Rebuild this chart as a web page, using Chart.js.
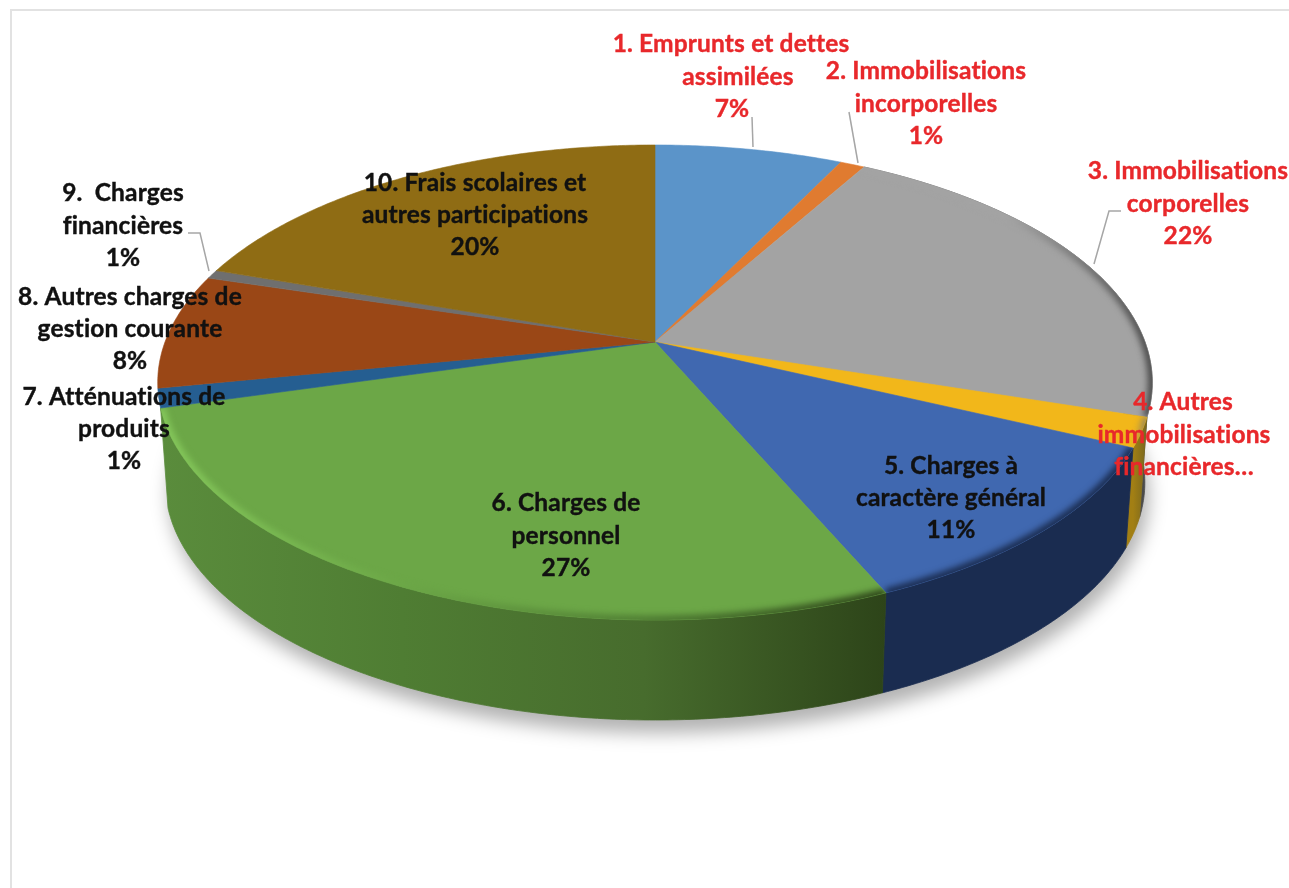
<!DOCTYPE html>
<html>
<head>
<meta charset="utf-8">
<script src="https://cdn.jsdelivr.net/npm/chart.js@4/dist/chart.umd.min.js"></script>
<style>
html, body { margin: 0; padding: 0; background: #fff; }
canvas { display: block; }
</style>
</head>
<body>
<canvas id="pieChart" width="1289" height="888"></canvas>
<script>
const categories = [
    '1. Emprunts et dettes assimilées',
    '2. Immobilisations incorporelles',
    '3. Immobilisations corporelles',
    '4. Autres immobilisations financières…',
    '5. Charges à caractère général',
    '6. Charges de personnel',
    '7. Atténuations de produits',
    '8. Autres charges de gestion courante',
    '9.  Charges financières',
    '10. Frais scolaires et autres participations'
];
const shares = [7.2, 0.95, 21.85, 2, 11.49, 27.1, 1.3, 7.8, 0.6, 19.7];
const topColors = ['#5b94c9', '#e07b30', '#a3a3a3', '#f2b71a', '#4068b0', '#6ca747', '#255e91', '#9a4716', '#6f6f6f', '#8f6c14'];

// side wall colours, left to right
const sideColors = [
    null, null,
    ['#6e6e6e', '#4a4a4a'],
    ['#a27f14', '#77661f'],
    ['#1a2c50', '#1a2c50'],
    ['#5a8c3c', '#4f7d33', '#476c2d', '#2d4419'],
    null, null, null, null
];
// soft rim on the top face, left to right
const rimColors = [
    null, null,
    ['#a3a3a3', '#a3a3a3', '#4a4a4a'],
    ['#f2b71a', '#8a8060'],
    ['#1a2c50', '#1a2c50'],
    ['#86c95c', '#6ca747', '#4f7d33', '#2d4419'],
    null, null, null, null
];

const labelLines = [
    [['1. Emprunts et dettes', 731, 44], ['assimilées', 738, 77], ['7%', 732, 109]],
    [['2. Immobilisations', 926, 71], ['incorporelles', 926, 104], ['1%', 926, 136]],
    [['3. Immobilisations', 1188, 171], ['corporelles', 1188, 204], ['22%', 1188, 236]],
    [['4. Autres', 1183, 402], ['immobilisations', 1184, 435], ['financières…', 1184, 467]],
    [['5. Charges à', 951, 466], ['caractère général', 951, 498], ['11%', 951, 530]],
    [['6. Charges de', 566, 503], ['personnel', 566, 536], ['27%', 566, 568]],
    [['7. Atténuations de', 124, 397], ['produits', 124, 429], ['1%', 124, 461]],
    [['8. Autres charges de', 130, 297], ['gestion courante', 130, 329], ['8%', 130, 361]],
    [['9.  Charges', 123, 193], ['financières', 123, 226], ['1%', 123, 258]],
    [['10. Frais scolaires et', 475, 183], ['autres participations', 475, 215], ['20%', 475, 247]]
];
const labelColors = ['#e8282b', '#e8282b', '#e8282b', '#e8282b', '#111', '#111', '#111', '#111', '#111', '#111'];
const leaders = [
    [[752, 117], [753, 147]],
    [[849, 112], [858, 163]],
    [[1121, 211], [1109, 211], [1094, 264]],
    [[188, 233], [200, 233], [209, 271]]
];

// tilted disc: hub stays off the ellipse centre because of the perspective
const hubX = 655, hubY = 342, radX = 490, radY = 230.6, persp = 0.1705, depth = 100, baseScale = 0.985;

function project(a, h) {
    const d = 1 + persp * Math.cos(a);
    const s = 1 - (1 - baseScale) * h;
    return [hubX + radX * s * Math.sin(a) / d, hubY - radY * Math.cos(a) / d + h * depth];
}

function arcPoints(a1, a2, h) {
    const pts = [];
    const n = Math.max(2, Math.ceil((a2 - a1) / 0.01));
    for (let i = 0; i <= n; i++) pts.push(project(a1 + (a2 - a1) * i / n, h));
    return pts;
}

function trace(ctx, pts) {
    pts.forEach(p => ctx.lineTo(p[0], p[1]));
}

function hGradient(ctx, pts, stops) {
    const xs = pts.map(p => p[0]);
    const g = ctx.createLinearGradient(Math.min(...xs), 0, Math.max(...xs), 0);
    stops.forEach((c, i) => g.addColorStop(i / (stops.length - 1), c));
    return g;
}

const pie3d = {
    id: 'pie3d',
    beforeDraw(chart) {
        const ctx = chart.ctx;
        ctx.save();
        ctx.fillStyle = '#e2e2e2';
        ctx.fillRect(10, 9, 1279, 2);
        ctx.fillRect(10, 9, 2, 879);
        ctx.restore();
    },
    beforeDatasetDraw(chart) {
        const ctx = chart.ctx;
        const arcs = chart.getDatasetMeta(0).data.map(el => ({
            a1: el.startAngle + Math.PI / 2,
            a2: el.endAngle + Math.PI / 2
        }));
        ctx.save();

        // soft shadow under the disc
        ctx.save();
        ctx.filter = 'blur(9px)';
        ctx.fillStyle = 'rgba(0,0,0,0.3)';
        ctx.translate(4, 13);
        ctx.beginPath();
        trace(ctx, arcPoints(0, Math.PI * 2, 1));
        ctx.closePath();
        ctx.fill();
        ctx.restore();

        // side walls
        arcs.forEach((arc, i) => {
            if (!sideColors[i]) return;
            const top = arcPoints(arc.a1, arc.a2, 0);
            const base = arcPoints(arc.a1, arc.a2, 1);
            ctx.beginPath();
            trace(ctx, top.concat(base.reverse()));
            ctx.closePath();
            const fill = hGradient(ctx, top, sideColors[i]);
            ctx.fillStyle = fill;
            ctx.strokeStyle = fill;
            ctx.lineWidth = 0.8;
            ctx.fill();
            ctx.stroke();
        });

        // top face
        arcs.forEach((arc, i) => {
            const rim = arcPoints(arc.a1, arc.a2, 0);
            ctx.beginPath();
            ctx.moveTo(hubX, hubY);
            trace(ctx, rim);
            ctx.closePath();
            ctx.fillStyle = topColors[i];
            ctx.strokeStyle = topColors[i];
            ctx.lineWidth = 0.6;
            ctx.fill();
            ctx.stroke();
            if (!rimColors[i]) return;
            ctx.save();
            ctx.beginPath();
            ctx.moveTo(hubX, hubY);
            trace(ctx, rim);
            ctx.closePath();
            ctx.clip();
            ctx.filter = 'blur(3px)';
            ctx.beginPath();
            trace(ctx, rim);
            ctx.strokeStyle = hGradient(ctx, rim, rimColors[i]);
            ctx.lineWidth = 9;
            ctx.stroke();
            ctx.restore();
        });
        ctx.restore();
        return false;
    },
    afterDatasetsDraw(chart) {
        const ctx = chart.ctx;
        ctx.save();
        ctx.strokeStyle = '#a6a6a6';
        ctx.lineWidth = 1.5;
        leaders.forEach(line => {
            ctx.beginPath();
            trace(ctx, line);
            ctx.stroke();
        });
        ctx.font = 'bold 24.5px Lato';
        ctx.letterSpacing = '0.15px';
        ctx.textAlign = 'center';
        ctx.textBaseline = 'middle';
        ctx.lineWidth = 0.4;
        labelLines.forEach((lines, i) => {
            ctx.fillStyle = labelColors[i];
            ctx.strokeStyle = labelColors[i];
            lines.forEach(l => {
                ctx.fillText(l[0], l[1], l[2]);
                ctx.strokeText(l[0], l[1], l[2]);
            });
        });
        ctx.restore();
    }
};

new Chart(document.getElementById('pieChart'), {
    type: 'pie',
    data: {
        labels: categories,
        datasets: [{ data: shares, backgroundColor: topColors, borderWidth: 0 }]
    },
    options: {
        responsive: false,
        animation: false,
        plugins: {
            legend: { display: false },
            tooltip: { enabled: false }
        }
    },
    plugins: [pie3d]
});
</script>
</body>
</html>
